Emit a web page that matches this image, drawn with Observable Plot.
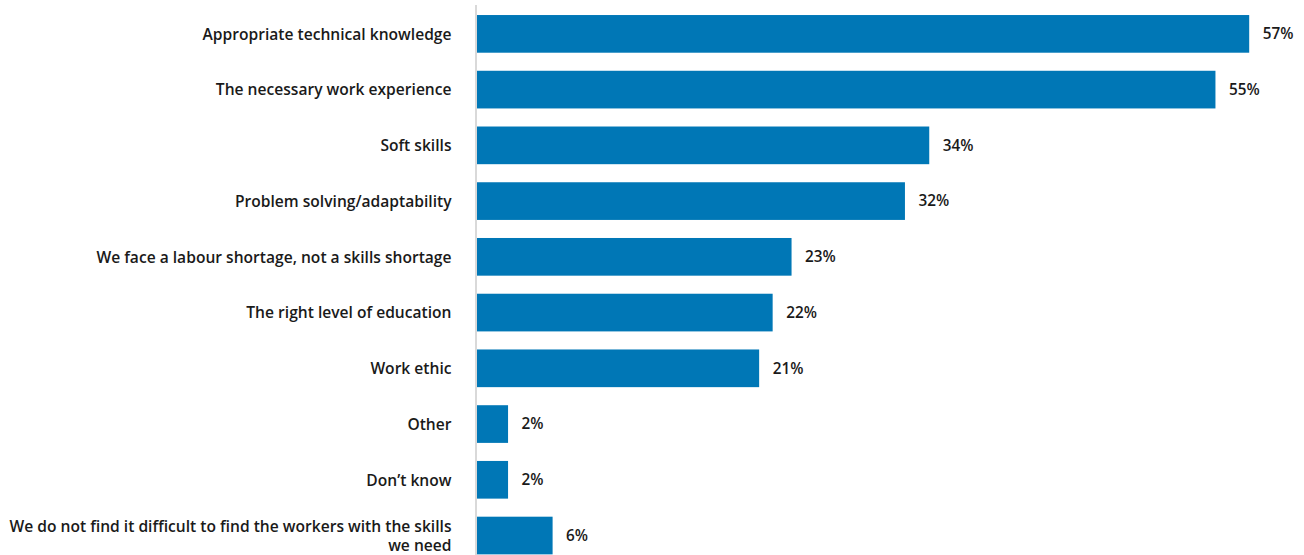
<!DOCTYPE html>
<html>
<head>
<meta charset="utf-8">
<script src="https://cdn.jsdelivr.net/npm/d3@7"></script>
<script src="https://cdn.jsdelivr.net/npm/@observablehq/plot@0.6"></script>
<style>
  html, body { margin: 0; padding: 0; background: #fff; }
  #chart svg { display: block; }
</style>
</head>
<body>
<div id="chart"></div>
<script>
const categories = [
  "Appropriate technical knowledge",
  "The necessary work experience",
  "Soft skills",
  "Problem solving/adaptability",
  "We face a labour shortage, not a skills shortage",
  "The right level of education",
  "Work ethic",
  "Other",
  "Don’t know",
  "We do not find it difficult to find the workers with the skills we need"
];
const categoryLabels = [
  "Appropriate technical knowledge",
  "The necessary work experience",
  "Soft skills",
  "Problem solving/adaptability",
  "We face a labour shortage, not a skills shortage",
  "The right level of education",
  "Work ethic",
  "Other",
  "Don’t know",
  "We do not find it difficult to find the workers with the skills\nwe need"
];
const values = [57.2, 54.7, 33.5, 31.7, 23.3, 21.9, 20.9, 2.3, 2.3, 5.6];
const valueLabels = ["57%", "55%", "34%", "32%", "23%", "22%", "21%", "2%", "2%", "6%"];

const data = categories.map((c, i) => ({
  category: c, label: categoryLabels[i], value: values[i], valueLabel: valueLabels[i]
}));

const chart = Plot.plot({
  width: 1304,
  height: 555,
  marginLeft: 477,
  marginRight: 17,
  marginTop: 5,
  marginBottom: 0,
  style: { fontFamily: "'Open Sans', sans-serif", background: "#fff" },
  x: { domain: [0, 60], range: [477, 1287], axis: null },
  y: { domain: categories, range: [6, 563.4], paddingInner: 0.324, paddingOuter: 0.162, round: false, axis: null },
  marks: [
    Plot.barX(data, { y: "category", x: "value", fill: "#0077b6" }),
    Plot.ruleX([0], { stroke: "#d9d9d9", strokeWidth: 2, dx: -1.5 }),
    Plot.text(data, {
      y: "category", x: 0, text: "label", textAnchor: "end", dx: -26, dy: -1,
      fontSize: 15.6, fontWeight: 600, fill: "#1a1a1a", lineHeight: 1.25
    }),
    Plot.text(data, {
      y: "category", x: "value", text: "valueLabel", textAnchor: "start", dx: 13, dy: 0,
      fontSize: 15.3, fontWeight: 600, fill: "#1a1a1a"
    })
  ]
});
document.getElementById("chart").appendChild(chart);
</script>
</body>
</html>
